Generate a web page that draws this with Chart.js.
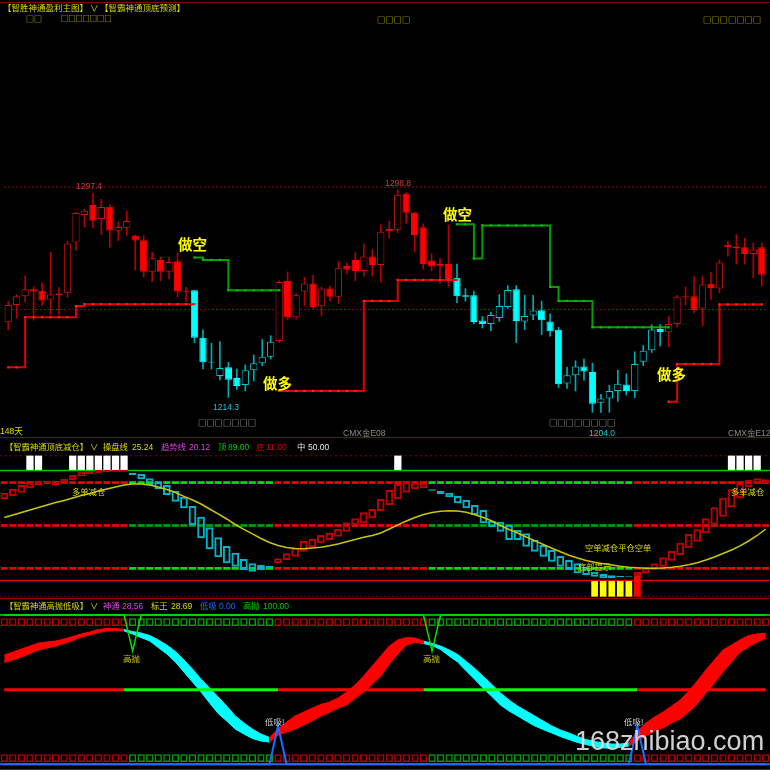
<!DOCTYPE html>
<html>
<head>
<meta charset="utf-8">
<script src="https://cdn.jsdelivr.net/npm/chart.js@4.4.1/dist/chart.umd.min.js"></script>
<style>
  html, body { margin: 0; padding: 0; background: #000; }
  #wrap { position: relative; width: 770px; height: 770px; overflow: hidden; background: #000; }
  canvas { position: absolute; left: 0; }
  .t { position: absolute; white-space: nowrap; line-height: 1; font-family: "Liberation Sans", "Noto Sans CJK SC", sans-serif; }
  .sq { font-family: "Noto Sans CJK SC", sans-serif; }
  .sep { position: absolute; left: 0; width: 770px; height: 1px; background: #8c0000; }
</style>
</head>
<body>
<div id="wrap">
  <canvas id="main" width="770" height="438" style="top:0"></canvas>
  <canvas id="mid" width="770" height="160" style="top:438px"></canvas>
  <canvas id="low" width="770" height="172" style="top:598px"></canvas>
  <div class="sep" style="top:2px"></div>
  <div class="sep" style="top:437px"></div>
  <div class="sep" style="top:598px"></div>
  <div class="sep" style="top:769px"></div>
</div>
<script>
// ---- main panel: 90 daily candles ----
const OPEN  = [1242.6,1249.9,1253.7,1256.6,1256.0,1252.3,1254.0,1255.2,1276.5,1288.1,
               1292.4,1286.5,1291.6,1281.5,1282.7,1279.5,1277.4,1264.1,1269.1,1264.1,
               1268.5,1256.0,1256.2,1236.0,1225.9,1219.8,1223.5,1219.0,1216.0,1222.3,
               1225.2,1228.0,1234.7,1260.2,1244.7,1255.7,1259.1,1249.4,1256.9,1253.4,
               1266.5,1269.1,1264.4,1270.5,1266.9,1282.2,1281.9,1297.2,1289.2,1283.0,
               1268.8,1267.3,1267.3,1261.5,1254.1,1254.1,1243.4,1241.9,1244.4,1249.1,
               1256.6,1243.0,1245.5,1247.7,1243.0,1239.4,1216.6,1220.1,1223.8,1221.5,
               1208.5,1210.3,1213.4,1216.2,1213.4,1225.9,1230.7,1239.8,1238.4,1241.9,
               1253.2,1253.7,1248.5,1259.0,1256.9,1275.5,1274.8,1274.5,1271.6,1274.5];
const HIGH  = [1251.4,1254.4,1262.3,1257.7,1259.4,1272.3,1257.3,1276.9,1289.2,1290.6,
               1297.4,1294.8,1292.7,1285.2,1289.9,1279.5,1279.4,1272.3,1270.3,1270.3,
               1271.9,1257.4,1256.2,1239.4,1233.7,1234.4,1225.6,1222.8,1224.5,1228.7,
               1235.3,1236.9,1260.2,1264.0,1254.8,1261.7,1262.7,1257.6,1258.0,1268.4,
               1267.7,1272.4,1275.9,1273.5,1284.0,1285.6,1298.8,1297.6,1289.2,1284.4,
               1271.7,1269.8,1284.0,1267.3,1256.9,1255.9,1245.1,1246.9,1254.4,1258.2,
               1258.2,1254.1,1254.1,1251.6,1246.2,1240.5,1223.5,1226.3,1227.0,1225.3,
               1212.0,1215.9,1222.2,1220.7,1230.1,1232.8,1241.6,1241.6,1245.1,1254.1,
               1257.6,1262.0,1262.2,1263.8,1269.1,1277.0,1279.8,1278.4,1276.3,1276.3];
const LOW   = [1239.4,1244.4,1251.4,1243.5,1249.8,1246.0,1246.0,1253.1,1273.1,1283.1,
               1282.7,1279.8,1274.5,1277.3,1279.4,1264.8,1261.9,1259.8,1260.3,1261.0,
               1253.5,1251.4,1234.0,1222.8,1222.8,1218.1,1210.7,1214.1,1213.5,1217.7,
               1224.2,1227.0,1234.0,1243.7,1244.0,1249.7,1248.5,1245.3,1251.6,1250.6,
               1263.1,1260.3,1262.2,1262.2,1259.7,1278.4,1280.7,1284.7,1272.4,1265.2,
               1264.5,1259.0,1257.6,1250.9,1251.6,1241.9,1240.2,1239.1,1243.0,1248.5,
               1234.0,1239.5,1243.7,1237.4,1236.7,1214.9,1214.5,1213.5,1218.0,1204.4,
               1204.4,1204.4,1209.0,1211.7,1210.6,1224.2,1229.8,1232.6,1232.2,1240.5,
               1249.9,1246.5,1241.2,1252.3,1255.1,1270.7,1267.3,1267.3,1261.5,1258.2];
const CLOSE = [1249.9,1253.7,1256.6,1255.7,1251.9,1254.4,1254.8,1276.0,1289.0,1289.9,
               1285.7,1291.5,1281.6,1283.1,1285.6,1277.3,1264.1,1269.8,1264.1,1268.2,
               1255.7,1255.6,1236.0,1225.6,1225.5,1223.2,1218.2,1215.6,1222.3,1225.2,
               1228.0,1234.4,1259.7,1244.7,1254.1,1259.1,1249.0,1256.9,1253.5,1265.5,
               1264.9,1264.4,1270.5,1266.9,1281.0,1281.2,1296.7,1289.1,1279.7,1267.4,
               1266.3,1266.6,1261.0,1253.7,1253.5,1242.7,1241.9,1245.7,1249.5,1256.3,
               1243.2,1245.3,1247.6,1243.5,1238.8,1216.3,1220.1,1223.8,1221.7,1208.0,
               1210.3,1213.5,1216.5,1213.4,1224.9,1230.5,1239.5,1238.5,1241.9,1253.4,
               1253.7,1247.8,1258.7,1257.2,1268.0,1274.5,1274.1,1271.6,1273.5,1262.8];
// candles drawn cyan (down trend), 1-based ranges
const CANDLE_DOWN = [[23, 32], [54, 78]];
// trailing stop lines
const RED_STOP = [1223.5,1223.5,1244.8,1244.8,1244.8,1244.8,1244.8,1244.8,1249.5,1250.3,
                  1250.3,1250.3,1250.3,1250.3,1250.3,1250.3,1250.3,1250.3,1250.3,1250.3,
                  1250.3,1250.3,1250.3,null,null,null,null,null,null,null,
                  null,null,1213.5,1213.5,1213.5,1213.5,1213.5,1213.5,1213.5,1213.5,
                  1213.5,1213.5,1251.7,1251.7,1251.7,1251.7,1260.6,1260.6,1260.6,1260.6,
                  1260.6,1260.6,1260.6,1260.6,null,null,null,null,null,null,
                  null,null,null,null,null,null,null,null,null,null,
                  null,null,null,null,null,null,null,null,1208.9,1224.9,
                  1224.9,1224.9,1224.9,1224.9,1250.2,1250.2,1250.2,1250.2,1250.2,1250.2];
const GREEN_STOP = [null,null,null,null,null,null,null,null,null,null,
                    null,null,null,null,null,null,null,null,null,null,
                    null,null,1270.1,1269.1,1269.1,1269.1,1256.2,1256.2,1256.2,1256.2,
                    1256.2,1256.2,1256.2,null,null,null,null,null,null,null,
                    null,null,null,null,null,null,null,null,null,null,
                    null,null,null,1284.2,1284.2,1269.7,1283.7,1283.7,1283.7,1283.7,
                    1283.7,1283.7,1283.7,1283.7,1257.6,1251.7,1251.7,1251.7,1251.7,1240.5,
                    1240.5,1240.5,1240.5,1240.5,1240.5,1240.5,1240.5,1240.5,1240.5,null,
                    null,null,null,null,null,null,null,null,null,null];
const PRICE_GRID = [1300, 1248];

// ---- middle panel: 顶底减仓 ----
const BOX_HI = [79.8,83.2,86.8,88.9,90.7,90.7,89.5,92.3,95.9,98.9,
                99.8,100.5,100.5,100.5,100.5,98.0,96.8,92.9,89.8,86.8,
                81.6,76.2,67.7,58.0,48.4,39.3,31.4,25.3,19.5,15.6,
                14.1,13.5,20.2,24.7,29.8,35.9,37.7,41.4,43.5,46.8,
                52.9,56.5,62.0,65.0,74.1,82.3,87.7,89.8,88.9,88.4,
                82.9,81.4,79.8,76.8,73.2,68.6,64.1,54.4,53.5,50.5,
                45.9,42.9,36.8,32.3,27.7,22.3,18.6,15.6,11.1,8.0,
                5.9,4.7,4.1,4.1,7.7,11.1,15.6,21.1,26.8,34.4,
                42.3,46.5,56.5,66.5,75.3,82.9,88.4,91.4,92.9,92.0];
const BOX_LO = [73.8,76.8,79.8,83.8,86.8,88.4,86.8,88.9,91.4,94.4,
                96.8,97.5,98.4,98.9,98.9,95.9,92.0,86.8,82.9,77.7,
                71.6,65.6,50.5,38.4,28.4,21.1,15.6,12.5,9.5,8.0,
                9.5,11.1,15.6,18.6,21.6,26.2,30.2,33.8,36.8,39.8,
                44.4,50.5,52.0,56.5,63.2,68.6,73.8,79.8,82.9,83.8,
                81.6,78.6,75.6,70.2,65.6,59.5,52.0,48.4,44.4,36.8,
                36.8,30.7,26.2,21.6,17.1,12.5,9.5,6.5,5.0,3.5,
                2.0,2.0,2.9,3.5,4.1,6.5,9.5,12.5,18.0,23.2,
                29.3,35.3,42.9,50.5,58.0,66.5,74.7,84.7,87.7,88.4];
const TREND_LINE = [57.3,59.5,61.8,64.1,66.4,68.6,70.9,72.7,75.0,77.3,
                    79.1,81.4,83.2,85.0,86.8,87.7,87.7,86.8,85.0,82.7,
                    80.0,76.4,73.2,69.5,65.0,60.5,55.9,50.9,46.4,42.3,
                    38.2,34.5,31.8,30.0,29.1,28.9,29.5,30.2,31.6,33.2,
                    35.3,37.3,39.3,40.9,43.2,46.8,50.5,54.1,57.3,60.0,
                    61.8,62.9,63.5,63.2,62.0,59.8,57.3,54.1,50.0,46.4,
                    43.2,39.5,36.2,32.7,29.3,26.1,22.9,20.5,18.2,16.5,
                    15.3,14.1,13.0,12.1,11.5,11.2,11.1,11.4,12.0,12.9,
                    14.4,16.2,18.6,21.4,24.5,27.7,31.4,35.9,40.9,46.8];
const LEVELS = [89, 50, 11];
const WHITE_AT = [4, 5, 9, 10, 11, 12, 13, 14, 15, 47, 86, 87, 88, 89];
const YELLOW_AT = [70, 71, 72, 73, 74];
const RED_AT = [75];
// down-trend stretches used by the two lower panels (1-based)
const DOWN = [[16, 32], [51, 74]];

// ---- lower panel: 高抛低吸 ----
const RIB_A = [73.2,75.2,77.2,79.2,81.2,81.9,82.6,83.9,85.6,87.3,
               88.6,90.3,91.0,91.0,90.3,88.9,87.9,86.3,83.3,79.9,
               75.6,69.9,63.8,57.1,51.1,45.1,39.0,32.4,27.7,23.6,
               20.3,18.0,23.6,28.3,32.4,35.0,37.7,40.1,41.7,44.4,
               48.4,53.1,59.1,65.8,72.5,79.2,83.3,84.9,84.6,82.6,
               80.9,79.2,76.6,73.5,68.9,64.2,58.8,53.4,47.8,43.1,
               39.0,35.7,32.4,29.0,25.7,23.0,21.0,18.6,16.6,15.3,
               14.3,13.6,13.6,14.3,22.3,27.7,31.7,35.0,39.0,43.1,
               49.1,55.8,63.2,69.9,76.6,79.9,83.3,86.3,87.3,87.9];
const RIB_B = [68.2,69.9,71.9,74.2,76.6,77.9,79.2,80.9,82.9,85.3,
               86.6,88.3,89.3,89.6,89.3,87.3,84.9,82.6,78.2,73.9,
               68.5,61.8,55.1,48.4,41.1,34.0,29.0,23.6,20.3,17.3,
               15.6,14.9,19.6,21.6,23.6,26.3,29.0,32.4,34.7,37.7,
               39.7,44.1,48.4,53.8,59.1,67.2,73.9,79.9,81.6,80.9,
               79.6,76.9,72.5,68.5,62.5,56.8,50.8,45.4,39.7,35.7,
               32.4,29.0,25.7,23.3,21.0,18.6,16.6,14.6,13.3,11.9,
               10.9,10.9,11.3,12.3,15.6,19.0,22.3,24.3,27.7,30.3,
               35.0,40.4,47.8,54.5,61.8,68.5,75.2,78.6,81.9,84.6];
const SELL_LEVEL = 100, SELL_DIP = 75.9, SELL_DIP_AT = [16, 51];
const BUY_LEVEL = 0, BUY_SPIKE = 25.7, BUY_SPIKE_AT = [33, 75];

const LABELS = OPEN.map((_, i) => i + 1);
const inRanges = (n, ranges) => ranges.some(([a, b]) => n >= a && n <= b);
const isDown = i => inRanges(i + 1, DOWN);

function baseOptions(min, max) {
  return {
    responsive: false, animation: false, devicePixelRatio: 1, events: [],
    layout: { padding: 0 },
    plugins: { legend: { display: false }, tooltip: { enabled: false } },
    scales: {
      x: { display: false, offset: true },
      xf: { type: 'category', display: false, offset: false },   // full-width reference lines
      y: { display: false, min, max }
    }
  };
}
const flat = (v) => LABELS.map(() => v);
const bar = (extra) => Object.assign({ type: 'bar', grouped: false, categoryPercentage: 1, borderSkipped: false, borderWidth: 0 }, extra);
const hline = (v, color, width, dash, order) => ({ type: 'line', xAxisID: 'xf', data: flat(v), borderColor: color,
  borderWidth: width, borderDash: dash || [], pointRadius: 0, order });

// ---------- main chart ----------
const cyanC = i => inRanges(i + 1, CANDLE_DOWN);
const up = i => CLOSE[i] >= OPEN[i];
new Chart(document.getElementById('main'), {
  data: {
    labels: LABELS,
    datasets: [
      { type: 'line', data: RED_STOP, stepped: true, borderColor: '#e00000', borderWidth: 2,
        pointStyle: 'rect', pointRadius: 1.6, pointBackgroundColor: '#ff2020', pointBorderWidth: 0, order: 0 },
      { type: 'line', data: GREEN_STOP, stepped: true, borderColor: '#00a000', borderWidth: 2,
        pointStyle: 'rect', pointRadius: 1.6, pointBackgroundColor: '#00c000', pointBorderWidth: 0, order: 0 },
      bar({ data: LABELS.map((_, i) => [OPEN[i], CLOSE[i]]), barPercentage: 0.86, borderWidth: 1, order: 2,
        backgroundColor: LABELS.map((_, i) => up(i) ? '#000' : (cyanC(i) ? '#00ffff' : '#ff0000')),
        borderColor: LABELS.map((_, i) => up(i) ? (cyanC(i) ? '#00c8d2' : '#c81414') : (cyanC(i) ? '#00ffff' : '#ff0000')) }),
      bar({ data: LABELS.map((_, i) => [LOW[i], HIGH[i]]), barThickness: 1, order: 3,
        backgroundColor: LABELS.map((_, i) => cyanC(i) ? '#00aab4' : '#b40000') }),
      ...PRICE_GRID.map(p => hline(p, '#a00000', 1, [2, 2], 4))
    ]
  },
  options: baseOptions(1195.2, 1377.7)
});

// ---------- middle chart ----------
const RED = '#f00000';
new Chart(document.getElementById('mid'), {
  data: {
    labels: LABELS,
    datasets: [
      { type: 'line', data: TREND_LINE, borderColor: '#c8c800', borderWidth: 1.5, pointRadius: 0, order: 0 },
      bar({ data: LABELS.map((_, i) => [BOX_LO[i], BOX_HI[i]]), barPercentage: 0.9, borderWidth: 2, order: 1,
        backgroundColor: 'rgba(0,0,0,0)',
        borderColor: LABELS.map((_, i) => isDown(i) ? '#00b4c8' : '#c00000') }),
      ...LEVELS.map(lv => bar({ data: flat([lv - 1.25, lv + 1.25]), barPercentage: 0.82, order: 2,
        backgroundColor: LABELS.map((_, i) => isDown(i) ? (lv === 50 ? '#00a000' : '#00e000') : RED) })),
      bar({ data: LABELS.map(n => WHITE_AT.includes(n) ? [100.5, 113.5] : null), barPercentage: 0.85,
        backgroundColor: '#ffffff', order: 3 }),
      bar({ data: LABELS.map(n => YELLOW_AT.includes(n) ? [-14.7, -0.5] : null), barPercentage: 0.78,
        backgroundColor: '#ffff00', order: 3 }),
      bar({ data: LABELS.map(n => RED_AT.includes(n) ? [-14.7, 6.5] : null), barPercentage: 0.78,
        backgroundColor: '#ff0000', order: 3 }),
      hline(100, '#00c800', 1.5, null, 4),
      hline(0, '#e00000', 1.5, null, 4),
      hline(113.3, '#8c0000', 1, [2, 3], 4),
      hline(-14.1, '#8c0000', 1, [2, 2], 4)
    ]
  },
  options: baseOptions(-15.9, 129.5)
});

// ---------- lower chart ----------
const ribColor = ctx => isDown(ctx.p1DataIndex) ? '#00ffff' : '#ff0000';
new Chart(document.getElementById('low'), {
  data: {
    labels: LABELS,
    datasets: [
      { type: 'line', data: LABELS.map(n => SELL_DIP_AT.includes(n) ? SELL_DIP : SELL_LEVEL),
        borderColor: '#00e000', borderWidth: 1.5, pointRadius: 0, order: 0 },
      { type: 'line', data: LABELS.map(n => BUY_SPIKE_AT.includes(n) ? BUY_SPIKE : BUY_LEVEL),
        borderColor: '#1c6cff', borderWidth: 2, pointRadius: 0, order: 0 },
      { type: 'line', data: flat(50), borderWidth: 3, pointRadius: 0, order: 1,
        segment: { borderColor: ctx => (isDown(ctx.p0DataIndex) || isDown(ctx.p1DataIndex)) ? '#00ff00' : '#ff0000' } },
      { type: 'line', data: RIB_A, borderWidth: 1, pointRadius: 0, order: 2,
        segment: { borderColor: ribColor } },
      { type: 'line', data: RIB_B, borderWidth: 1, pointRadius: 0, order: 2, fill: 3, backgroundColor: '#ff0000',
        segment: { borderColor: ribColor, backgroundColor: ribColor } },
      bar({ data: flat([92.7, 97.9]), barPercentage: 0.85, borderWidth: 1.5, order: 3,
        backgroundColor: 'rgba(0,0,0,0)', borderColor: LABELS.map((_, i) => isDown(i) ? '#00a000' : '#b40000') }),
      bar({ data: flat([1.6, 6.8]), barPercentage: 0.85, borderWidth: 1.5, order: 3,
        backgroundColor: 'rgba(0,0,0,0)', borderColor: LABELS.map((_, i) => isDown(i) ? '#00a000' : '#b40000') }),
      hline(SELL_LEVEL, '#00e000', 1.5, null, 4),
      hline(BUY_LEVEL, '#1c6cff', 2, null, 4)
    ]
  },
  options: baseOptions(-3.8, 111.4)
});

// ---------- texts ----------
const Y = '#dcdc00', MAG = '#e040e0', GRN = '#00d000', RD = '#e00000', WH = '#e8e8e8', BL = '#2468ff';
const TEXTS = [
  ['【智胜神通盈利主图】', 3, 8, Y, 8.5], ['∨', 90, 8, Y, 8.5], ['【智霸神通顶底预测】', 100, 8, Y, 8.5],
  ['□□', 26, 19, Y, 8, 0, 'sq'], ['□□□□□□□', 61, 19, Y, 7.2, 0, 'sq'], ['□□□□', 377, 19, Y, 8.3, 0, 'sq'],
  ['□□□□□□□', 703, 19, Y, 8.3, 0, 'sq'],
  ['1297.4', 76, 186, '#d03c3c', 8.5], ['1298.8', 385, 183, '#d03c3c', 8.5],
  ['做空', 178, 245.5, '#ffff00', 14.5, 700], ['做空', 443, 215.5, '#ffff00', 14.5, 700],
  ['做多', 263, 384.5, '#ffff00', 14.5, 700], ['做多', 657, 375.5, '#ffff00', 14.5, 700],
  ['1214.3', 213, 407.5, '#1ec8e6', 8.5], ['1204.0', 589, 433.5, '#1ec8e6', 8.5],
  ['□□□□□□□', 198, 422, '#c8c8c8', 8.3, 0, 'sq'], ['□□□□□□□□', 549, 422, '#c8c8c8', 8.3, 0, 'sq'],
  ['148天', 0, 431.5, Y, 8.5], ['CMX金E08', 343, 433, '#8c8c8c', 8.5], ['CMX金E12', 728, 433, '#8c8c8c', 8.5],

  ['【智霸神通顶底减仓】', 5, 447, Y, 8.3], ['∨', 90, 447, Y, 8.3], ['操盘线', 103, 447, Y, 8.3], ['25.24', 132, 447, Y, 8.5],
  ['趋势线', 161, 447, MAG, 8.3], ['20.12', 189, 447, MAG, 8.5], ['顶', 218, 447, GRN, 8.3], ['89.00', 228, 447, GRN, 8.5],
  ['底', 256, 447, RD, 8.3], ['11.00', 266, 447, RD, 8.5], ['中', 297, 447, WH, 8.3], ['50.00', 308, 447, WH, 8.5],
  ['多单减仓', 72, 492, Y, 8.3], ['多单减仓', 731, 492, Y, 8.3],
  ['空单减仓平仓空单', 585, 548, Y, 8.3], ['底部提示', 578, 567, Y, 8.3],

  ['【智霸神通高抛低吸】', 5, 606, Y, 8.3], ['∨', 90, 606, Y, 8.3], ['神通', 103, 606, MAG, 8.3], ['28.56', 122, 606, MAG, 8.5],
  ['标王', 151, 606, Y, 8.3], ['28.69', 171, 606, Y, 8.5], ['低吸', 200, 606, BL, 8.3], ['0.00', 219, 606, BL, 8.5],
  ['高抛', 243, 606, GRN, 8.3], ['100.00', 263, 606, GRN, 8.5],
  ['高抛', 123, 659, '#d2c800', 8.5], ['高抛', 423, 659, '#d2c800', 8.5],
  ['低吸!', 265, 722, '#d0d0d0', 8.5], ['低吸!', 624, 722, '#d0d0d0', 8.5],
  ['168zhibiao.com', 575, 741.5, 'rgba(225,225,225,0.92)', 27]
];
const wrap = document.getElementById('wrap');
TEXTS.forEach(([txt, x, y, color, size, weight, cls]) => {
  const d = document.createElement('div');
  d.className = 't' + (cls ? ' ' + cls : '');
  d.textContent = txt;
  d.style.left = x + 'px';
  d.style.top = (y - size / 2) + 'px';
  d.style.fontSize = size + 'px';
  d.style.color = color;
  if (weight) d.style.fontWeight = weight;
  wrap.appendChild(d);
});
</script>
</body>
</html>
